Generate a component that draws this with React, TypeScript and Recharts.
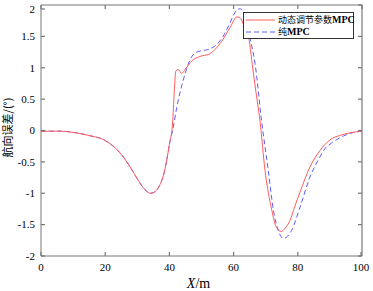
import * as React from "react";
import { LineChart, Line, XAxis, YAxis } from "recharts";

// shared start of both curves (they overlap up to ~x=40)
const sharedX = [0, 3, 6, 10, 15, 20, 25, 28, 30, 32, 34, 35, 36, 37, 38, 39, 40];
const sharedY = [-0.015, -0.01, -0.01, -0.03, -0.08, -0.16, -0.38, -0.6, -0.77, -0.92, -1.0, -0.99, -0.95, -0.87, -0.74, -0.52, -0.22];

// 动态调节参数MPC
const redX = [41, 41.5, 42, 42.8, 43.8, 45, 47, 49.5, 52.5, 54, 56, 59, 61, 62, 63, 64.5, 66, 67, 68.2, 69.8, 71.9, 73, 74.8, 76, 77.6, 79, 80.7, 83.8, 86.9, 90, 93, 96, 100];
const redY = [0.12, 0.6, 0.95, 0.97, 0.91, 0.98, 1.11, 1.18, 1.22, 1.28, 1.4, 1.65, 1.81, 1.8, 1.7, 1.54, 0.98, 0.6, 0.16, -0.64, -1.27, -1.5, -1.61, -1.56, -1.43, -1.22, -0.98, -0.58, -0.32, -0.15, -0.08, -0.04, -0.01];

// 纯MPC
const blueX = [41, 42.3, 44.3, 45.9, 47, 48.5, 50, 52.6, 54, 55.8, 57.5, 58.9, 60, 61, 62, 63, 64, 65, 66.7, 68.7, 70.8, 72.4, 73.9, 75.5, 76.5, 78.1, 80.7, 83.8, 86.9, 88, 90.5, 93, 96, 100];
const blueY = [0.0, 0.37, 0.8, 1.06, 1.18, 1.25, 1.27, 1.3, 1.34, 1.43, 1.57, 1.72, 1.84, 1.92, 1.94, 1.9, 1.75, 1.5, 1.06, 0.16, -0.64, -1.27, -1.59, -1.72, -1.7, -1.59, -1.22, -0.74, -0.42, -0.32, -0.2, -0.12, -0.05, -0.01];

const xTicks = [0, 20, 40, 60, 80, 100];
const yTicks = [-2, -1.5, -1, -0.5, 0, 0.5, 1, 1.5, 2];

const RED = "#ff5c5c";
const BLUE = "#5c5cff";
const AXIS = "#777777";
const FONT = "'Liberation Serif', 'Times New Roman', serif";
const CJK = "'Noto Sans CJK SC', sans-serif";

const W = 373;
const H = 291;
const M = { top: 5, right: 11, left: 41, bottom: 35 };
const PW = W - M.left - M.right;
const PH = H - M.top - M.bottom;

const redData = [...sharedX, ...redX].map((x, i) => ({ x, y: [...sharedY, ...redY][i] }));
const blueData = [...sharedX, ...blueX].map((x, i) => ({ x, y: [...sharedY, ...blueY][i] }));

// MATLAB style ticks: pointing inward
function BottomTick({ x, y, payload }: any) {
  return (
    <g>
      <line x1={x} x2={x} y1={y} y2={y - 4} stroke={AXIS} strokeWidth={1.2} />
      <text x={x} y={y + 15} textAnchor="middle" fontSize={11} style={{ fontFamily: FONT }} fill="#000">
        {payload.value}
      </text>
    </g>
  );
}
function LeftTick({ x, y, payload }: any) {
  return (
    <g>
      <line x1={x} x2={x + 4} y1={y} y2={y} stroke={AXIS} strokeWidth={1.2} />
      <text x={x - 6} y={y} dy="0.35em" textAnchor="end" fontSize={11} style={{ fontFamily: FONT }} fill="#000">
        {payload.value}
      </text>
    </g>
  );
}

// top and right edges of the box, with inward ticks
function Frame() {
  const x0 = M.left;
  const x1 = M.left + PW;
  const y0 = M.top;
  const y1 = M.top + PH;
  return (
    <svg
      width={W}
      height={H}
      viewBox={`0 0 ${W} ${H}`}
      style={{ position: "absolute", left: 0, top: 0, pointerEvents: "none", zIndex: 2, overflow: "visible" }}
    >
      <path
        d={`M${x0},${y0} L${x1},${y0} L${x1},${y1}`}
        fill="none"
        stroke={AXIS}
        strokeWidth={1.2}
      />
      {xTicks.map((t) => {
        const px = x0 + (t / 100) * PW;
        return <line key={"tx" + t} x1={px} x2={px} y1={y0} y2={y0 + 4} stroke={AXIS} strokeWidth={1.2} />;
      })}
      {yTicks.map((t) => {
        const py = y0 + ((2 - t) / 4) * PH;
        return <line key={"ty" + t} x1={x1} x2={x1 - 4} y1={py} y2={py} stroke={AXIS} strokeWidth={1.2} />;
      })}
    </svg>
  );
}

function LegendBox() {
  const items = [
    { label: "动态调节参数", tail: "MPC", color: RED, dash: undefined },
    { label: "纯", tail: "MPC", color: BLUE, dash: "5 3" },
  ];
  return (
    <div
      style={{
        position: "absolute",
        left: 243,
        top: 12,
        width: 109,
        height: 25,
        border: "1px solid #333",
        background: "#fff",
        zIndex: 3,
      }}
    >
      {items.map((it, i) => (
        <div
          key={it.label}
          style={{ display: "flex", alignItems: "center", height: 12, marginTop: i === 0 ? 1 : 0, whiteSpace: "nowrap" }}
        >
          <svg width={34} height={12} style={{ display: "block", flex: "none" }}>
            <line x1={2} x2={31} y1={6} y2={6} stroke={it.color} strokeWidth={1} strokeDasharray={it.dash} />
          </svg>
          <span style={{ fontSize: 9, fontFamily: CJK, lineHeight: "12px", color: "#000" }}>{it.label}</span>
          <span style={{ fontSize: 10, fontFamily: FONT, lineHeight: "12px", color: "#000", fontWeight: 700 }}>
            {it.tail}
          </span>
        </div>
      ))}
    </div>
  );
}

export default function App() {
  return (
    <div style={{ position: "absolute", left: 0, top: 0, width: W, height: H, background: "#fff" }}>
      <LineChart width={W} height={H} margin={{ top: M.top, right: M.right, left: 0, bottom: 0 }}>
        <XAxis
          dataKey="x"
          type="number"
          domain={[0, 100]}
          ticks={xTicks}
          height={M.bottom}
          stroke={AXIS}
          tickLine={false}
          tickSize={0}
          tickMargin={0}
          tick={<BottomTick />}
          label={(props: any) => {
            const vb = props.viewBox;
            return (
              <text x={vb.x + vb.width / 2 - 3} y={288} textAnchor="middle" fontSize={14} style={{ fontFamily: FONT }} fill="#000">
                <tspan fontStyle="italic">X</tspan>
                <tspan>/m</tspan>
              </text>
            );
          }}
        />
        <YAxis
          type="number"
          domain={[-2, 2]}
          ticks={yTicks}
          width={M.left}
          stroke={AXIS}
          tickLine={false}
          tickSize={0}
          tickMargin={0}
          tick={<LeftTick />}
          label={(props: any) => {
            const vb = props.viewBox;
            const cy = vb.y + vb.height / 2 - 3;
            return (
              <text
                x={7}
                y={cy}
                transform={`rotate(-90, 7, ${cy})`}
                textAnchor="middle"
                dominantBaseline="central"
                fontSize={11}
                style={{ fontFamily: CJK }}
                fill="#000"
              >
                航向误差/(°)
              </text>
            );
          }}
        />
        <Line
          data={blueData}
          dataKey="y"
          type="monotone"
          stroke={BLUE}
          strokeWidth={1}
          strokeDasharray="5 3"
          dot={false}
          isAnimationActive={false}
        />
        <Line
          data={redData}
          dataKey="y"
          type="monotone"
          stroke={RED}
          strokeWidth={1}
          dot={false}
          isAnimationActive={false}
        />
      </LineChart>
      <Frame />
      <LegendBox />
    </div>
  );
}
